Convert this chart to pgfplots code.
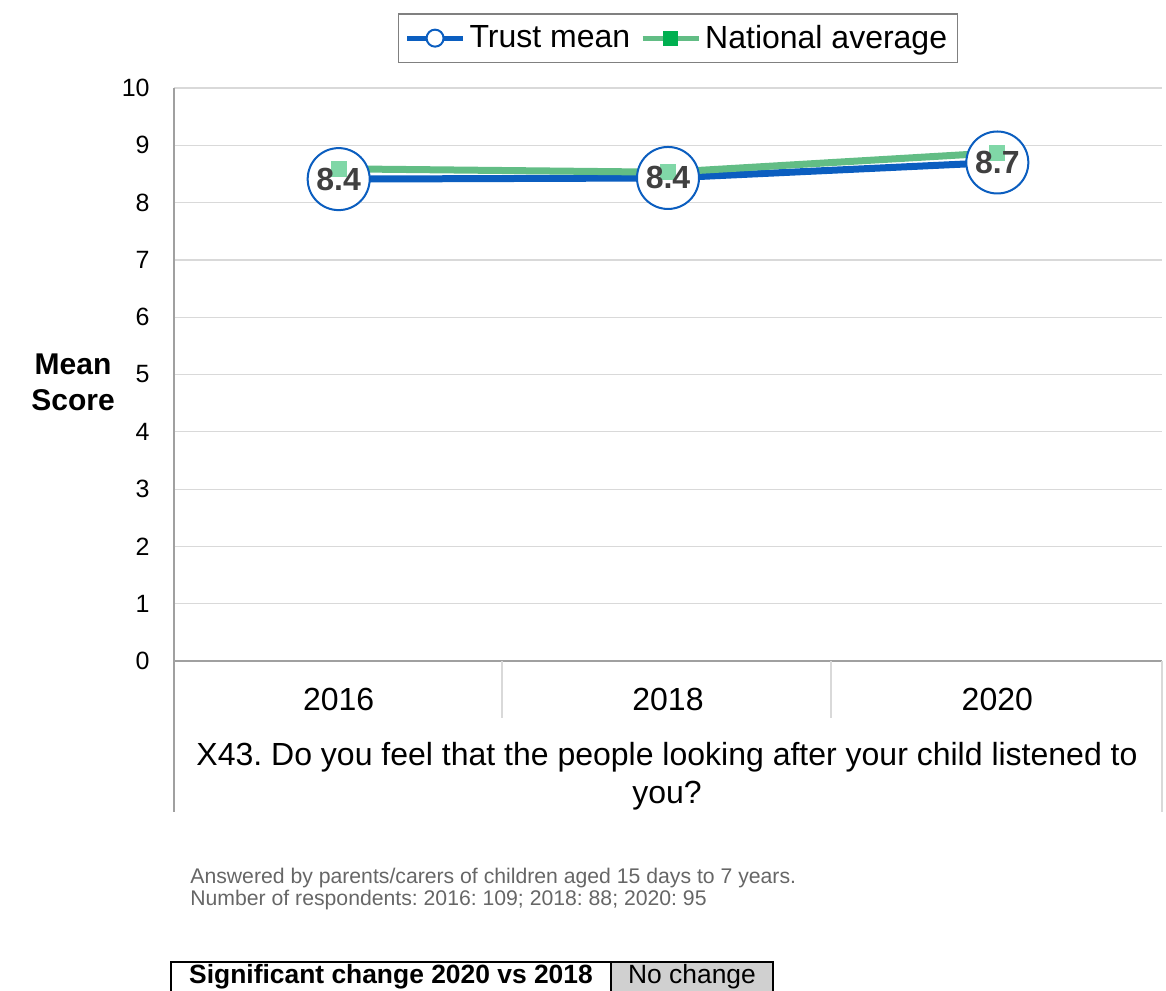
\documentclass[border=0pt]{standalone}
\usepackage{pgfplots}
\pgfplotsset{compat=1.18}
\usepackage{fontspec}
\setmainfont{Liberation Sans}
\frenchspacing
\definecolor{trustblue}{HTML}{0B5EC0}
\definecolor{natgreen}{HTML}{62BD85}
\definecolor{natmark}{HTML}{00B050}
\definecolor{gridgray}{HTML}{D9D9D9}
\definecolor{axisgray}{HTML}{A0A0A0}
\definecolor{labelgray}{HTML}{404040}
\definecolor{notegray}{HTML}{666666}
\definecolor{cellgray}{HTML}{D0D0D0}
\begin{document}
\begin{tikzpicture}
\path[use as bounding box] (0,0) rectangle (583pt,-495pt);
\begin{axis}[
 at={(87pt,-330.5pt)}, anchor=south west,
 scale only axis, width=494pt, height=286.5pt,
 xmin=-0.5, xmax=2.5, ymin=0, ymax=10,
 xtick={0,1,2}, xticklabels={2016,2018,2020},
 ytick={0,1,...,10},
 ymajorgrids, grid style={gridgray, line width=0.6pt},
 axis lines*=left, axis line style={axisgray, line width=0.7pt, -},
 major tick length=0pt,
 /pgf/number format/assume math mode=true,
 yticklabel style={font=\fontsize{12.5}{15}\selectfont, anchor=east, inner sep=0pt, xshift=-12pt},
 xticklabel style={font=\fontsize{16}{19}\selectfont, anchor=center, inner sep=0pt, yshift=-19pt},
 clip=false,
 legend style={at={(0.51,1.087)}, anchor=center, legend columns=2, draw=gray, line width=0.6pt,
   font=\fontsize{16}{19}\selectfont, inner xsep=3pt, inner ysep=3.5pt,
   /tikz/every even column/.append style={column sep=3pt}},
 legend cell align=left,
 legend image code/.code={\draw[mark repeat=2,mark phase=2,#1] plot coordinates {(0pt,0pt) (14pt,0pt) (28pt,0pt)};},
]
\addlegendimage{trustblue, line width=2.5pt, mark=*, mark size=4.25pt, mark options={fill=white, draw=trustblue, line width=1pt}}
\addlegendentry{Trust mean}
\addlegendimage{natgreen, line width=2.5pt, mark=square*, mark size=3.5pt, mark options={fill=natmark, draw=natmark, line width=0pt}}
\addlegendentry{National average}

% trust line
\addplot[trustblue, line width=3.5pt, mark=none, forget plot] coordinates {(0,8.41) (1,8.43) (2,8.70)};
% opaque marker background
\addplot[only marks, mark=*, mark size=15.5pt, mark options={fill=white, draw=none}, forget plot] coordinates {(0,8.41) (1,8.43) (2,8.70)};
% national average
\addplot[natgreen, line width=3.5pt, mark=square*, mark size=3.75pt, mark options={fill=natmark, draw=natmark, line width=0pt}, forget plot] coordinates {(0,8.59) (1,8.53) (2,8.87)};
% trust markers (semi-transparent fill)
\addplot[only marks, mark=*, mark size=15.5pt, mark options={fill=white, fill opacity=0.5, draw=trustblue, draw opacity=1, line width=1pt}, forget plot]
  coordinates {(0,8.41) (1,8.43) (2,8.70)};
% data labels
\addplot[only marks, mark=none, forget plot,
  point meta=explicit, nodes near coords={\pgfmathprintnumber[fixed,precision=1]{\pgfplotspointmeta}},
  every node near coord/.style={anchor=center, inner sep=0pt, text=labelgray, opacity=1, text opacity=1, font=\bfseries\fontsize{16}{19}\selectfont}]
  coordinates {(0,8.41) [8.41] (1,8.43) [8.43] (2,8.70) [8.70]};
\end{axis}
% category axis extensions
\draw[axisgray, line width=0.7pt] (87pt,-330.5pt) -- (87pt,-406pt);
\draw[gridgray, line width=0.7pt] (251pt,-330.5pt) -- (251pt,-359pt);
\draw[gridgray, line width=0.7pt] (415.5pt,-330.5pt) -- (415.5pt,-359pt);
\draw[gridgray, line width=0.7pt] (581pt,-330.5pt) -- (581pt,-406pt);
% axis title
\node[align=center, font=\bfseries\fontsize{15}{18}\selectfont] at (36.5pt,-191pt) {Mean\\Score};
% category title
\node[align=center, font=\fontsize{16}{19}\selectfont] at (333.5pt,-388pt) {X43. Do you feel that the people looking after your child listened to\\you?};
% notes
\node[anchor=base west, inner sep=0pt, text=notegray, font=\fontsize{10.6}{12}\selectfont] at (95pt,-441.5pt) {Answered by parents/carers of children aged 15 days to 7 years.};
\node[anchor=base west, inner sep=0pt, text=notegray, font=\fontsize{10.6}{12}\selectfont] at (95pt,-452.5pt) {Number of respondents: 2016: 109; 2018: 88; 2020: 95};
% significance box
\draw[black, line width=0.6pt] (85.5pt,-481pt) rectangle (305.5pt,-500pt);
\draw[black, line width=0.6pt, fill=cellgray] (305.5pt,-481pt) rectangle (386.5pt,-500pt);
\node[anchor=base, inner sep=0pt, font=\bfseries\fontsize{13.2}{15}\selectfont] at (195.5pt,-491.5pt) {Significant change 2020 vs 2018};
\node[anchor=base, inner sep=0pt, font=\fontsize{13.2}{15}\selectfont] at (346pt,-491.5pt) {No change};
\end{tikzpicture}
\end{document}
